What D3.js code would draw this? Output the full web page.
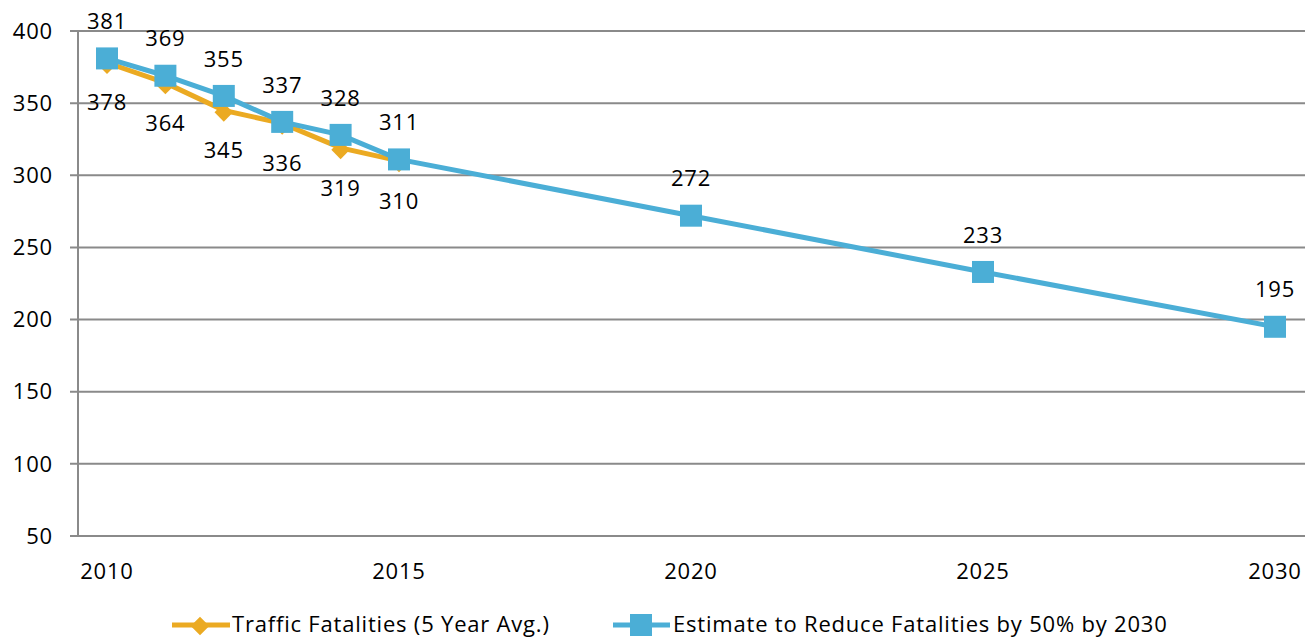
<!DOCTYPE html>
<html lang="en">
  <head>
    <meta charset="UTF-8">
    <title>Traffic Fatalities</title>
    <script src="https://d3js.org/d3.v7.min.js"></script>
    <style>
      body {
        margin: 0;
        padding: 0;
        background-color: #fff;
      }
      svg text {
        font-family: 'Open Sans', sans-serif;
        font-size: 22px;
        letter-spacing: 0.8px;
        fill: #000;
      }
    </style>
  </head>
  <body>
    <script>
      const actualYears = [2010, 2011, 2012, 2013, 2014, 2015];
      const actualValues = [378, 364, 345, 336, 319, 310];
      const targetYears = [2010, 2011, 2012, 2013, 2014, 2015, 2020, 2025, 2030];
      const targetValues = [381, 369, 355, 337, 328, 311, 272, 233, 195];
      const yTicks = [50, 100, 150, 200, 250, 300, 350, 400];
      const xTicks = [2010, 2015, 2020, 2025, 2030];
      const seriesNames = ["Traffic Fatalities (5 Year Avg.)", "Estimate to Reduce Fatalities by 50% by 2030"];

      const orange = "#EBAA22", blue = "#4BAED6";
      const width = 1311, height = 638;
      const svg = d3.select("body").append("svg").attr("width", width).attr("height", height);

      const x = d3.scaleLinear().domain([2010, 2030]).range([107, 1275]);
      const y = d3.scaleLinear().domain([50, 400]).range([536, 31]);

      // gridlines
      svg.append("g").selectAll("line").data(yTicks).enter().append("line")
        .attr("x1", 70).attr("x2", 1305)
        .attr("y1", d => y(d)).attr("y2", d => y(d))
        .attr("stroke", "#8a8a8a").attr("stroke-width", 2);
      svg.append("line").attr("x1", 78).attr("x2", 78).attr("y1", y(400)).attr("y2", y(50))
        .attr("stroke", "#8a8a8a").attr("stroke-width", 2);

      svg.append("g").selectAll("text").data(yTicks).enter().append("text")
        .attr("x", 53).attr("y", d => y(d)).attr("dy", "0.35em").attr("text-anchor", "end")
        .text(d => d);
      svg.append("g").selectAll("text").data(xTicks).enter().append("text")
        .attr("x", d => x(d)).attr("y", 571).attr("dy", "0.35em").attr("text-anchor", "middle")
        .text(d => d);

      const line = d3.line().x(d => x(d[0])).y(d => y(d[1]));
      const actual = actualYears.map((yr, i) => [yr, actualValues[i]]);
      const target = targetYears.map((yr, i) => [yr, targetValues[i]]);

      svg.append("path").datum(actual).attr("d", line).attr("fill", "none")
        .attr("stroke", orange).attr("stroke-width", 5);
      svg.append("g").selectAll("path").data(actual).enter().append("path")
        .attr("d", d3.symbol().type(d3.symbolDiamond2).size(220))
        .attr("transform", d => `translate(${x(d[0])},${y(d[1]) + 2})`)
        .attr("fill", orange);

      svg.append("path").datum(target).attr("d", line).attr("fill", "none")
        .attr("stroke", blue).attr("stroke-width", 5);
      svg.append("g").selectAll("rect").data(target).enter().append("rect")
        .attr("x", d => x(d[0]) - 11).attr("y", d => y(d[1]) - 11)
        .attr("width", 22).attr("height", 22).attr("fill", blue);

      svg.append("g").selectAll("text").data(actual).enter().append("text")
        .attr("x", d => x(d[0])).attr("y", d => y(d[1]) + 40).attr("dy", "0.35em")
        .attr("text-anchor", "middle").text(d => d[1]);
      svg.append("g").selectAll("text").data(target).enter().append("text")
        .attr("x", d => x(d[0])).attr("y", d => y(d[1]) - 37).attr("dy", "0.35em")
        .attr("text-anchor", "middle").text(d => d[1]);

      // legend
      const legend = svg.append("g").attr("transform", "translate(0,625)");
      legend.append("line").attr("x1", 172).attr("x2", 230).attr("stroke", orange).attr("stroke-width", 5);
      legend.append("path").attr("d", d3.symbol().type(d3.symbolDiamond2).size(220))
        .attr("transform", "translate(200,1)").attr("fill", orange);
      legend.append("text").attr("x", 232).attr("dy", "0.33em").text(seriesNames[0]);
      legend.append("line").attr("x1", 613).attr("x2", 670).attr("stroke", blue).attr("stroke-width", 5);
      legend.append("rect").attr("x", 630).attr("y", -11).attr("width", 22).attr("height", 22).attr("fill", blue);
      legend.append("text").attr("x", 673).attr("dy", "0.33em").text(seriesNames[1]);
    </script>
  </body>
</html>
